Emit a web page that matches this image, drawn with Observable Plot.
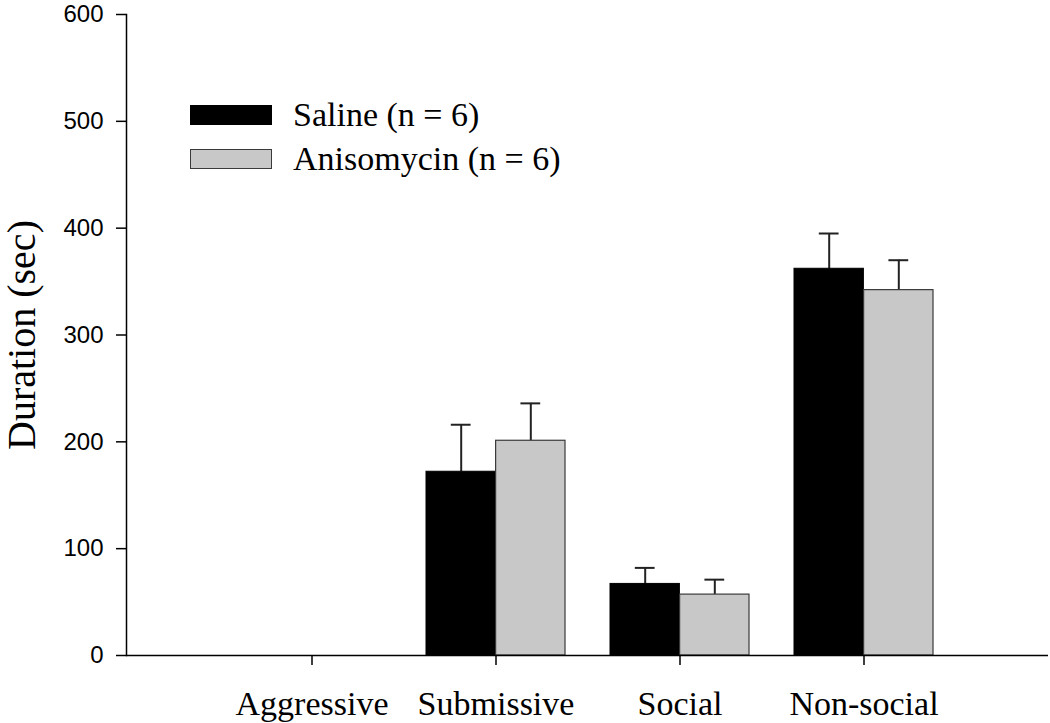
<!DOCTYPE html>
<html>
<head>
<meta charset="utf-8">
<script src="https://cdn.jsdelivr.net/npm/d3@7"></script>
<script src="https://cdn.jsdelivr.net/npm/@observablehq/plot@0.6"></script>
<style>
  html, body { margin: 0; padding: 0; background: #fff; }
  #wrap { position: relative; width: 1050px; height: 723px; }
  #legend { position: absolute; left: 190px; top: 93px; font-family: "Liberation Serif", "Times New Roman", serif; font-size: 34px; color: #000; }
  .row { display: flex; align-items: center; height: 44px; }
  .sw { width: 80px; height: 18px; margin-right: 21px; box-sizing: content-box; }
</style>
</head>
<body>
<div id="wrap"></div>
<script>
// ---- data ----
const categories = ["Aggressive", "Submissive", "Social", "Non-social"];
const seriesNames = ["Saline (n = 6)", "Anisomycin (n = 6)"];
const salineMean = [0, 172, 67, 362];
const salineSE   = [0, 44, 15, 33];
const anisoMean  = [0, 201, 57, 342];
const anisoSE    = [0, 35, 14, 28];
const yTicks = [0, 100, 200, 300, 400, 500, 600];
const colors = ["#000000", "#c8c8c8"];
const strokes = ["#000000", "#3a3a3a"];

const saline = categories.map((c, i) => ({cat: c, mean: salineMean[i], se: salineSE[i]}));
const aniso  = categories.map((c, i) => ({cat: c, mean: anisoMean[i], se: anisoSE[i]}));

const W = 1050, H = 723, mL = 126, mR = 2, mT = 14, mB = 68;
const pInner = 0.245, pOuter = 0.6225;
const step = (W - mL - mR) / (categories.length - pInner + 2 * pOuter);
const bw = step * (1 - pInner);
const half = bw / 2;
const capW = 20;
const capInset = (bw - capW) / 2;

const errMarks = (rows, side) => {
  const r = rows.filter(d => d.se > 0);
  return [
    Plot.ruleX(r, {x: "cat", y1: "mean", y2: d => d.mean + d.se, dx: side * bw / 4, stroke: "#222", strokeWidth: 2}),
    Plot.tickY(r, {x: "cat", y: d => d.mean + d.se, dx: side * bw / 4, insetLeft: capInset, insetRight: capInset, stroke: "#222", strokeWidth: 2})
  ];
};

const chart = Plot.plot({
  width: W, height: H,
  marginLeft: mL, marginRight: mR, marginTop: mT, marginBottom: mB,
  style: {fontFamily: "'Liberation Sans', Arial, sans-serif", color: "#000", background: "#fff"},
  x: {type: "band", domain: categories, paddingInner: pInner, paddingOuter: pOuter, axis: null},
  y: {domain: [0, 600], axis: null},
  marks: [
    ...errMarks(saline, -1),
    ...errMarks(aniso, 1),
    Plot.barY(saline, {x: "cat", y: "mean", fill: colors[0], stroke: strokes[0], strokeWidth: 1, insetRight: half}),
    Plot.barY(aniso, {x: "cat", y: "mean", fill: colors[1], stroke: strokes[1], strokeWidth: 1.2, insetLeft: half}),
    Plot.frame({anchor: "left", stroke: "#000", strokeWidth: 1.5}),
    Plot.ruleY([0], {stroke: "#000", strokeWidth: 1.5}),
    Plot.axisY({ticks: yTicks, tickSize: 10, tickPadding: 13, fontSize: 24, label: null, strokeWidth: 1.5}),
    Plot.axisX({tickSize: 10, tickPadding: 25, fontSize: 34, fontFamily: "'Liberation Serif', 'Times New Roman', serif", label: null, strokeWidth: 1.5}),
    Plot.text(["Duration (sec)"], {frameAnchor: "left", dx: -104, rotate: -90, fontSize: 40, fontFamily: "'Liberation Serif', 'Times New Roman', serif", textAnchor: "middle"})
  ]
});

const wrap = document.getElementById("wrap");
wrap.appendChild(chart);

const legend = document.createElement("div");
legend.id = "legend";
seriesNames.forEach((name, i) => {
  const row = document.createElement("div");
  row.className = "row";
  const sw = document.createElement("div");
  sw.className = "sw";
  sw.style.background = colors[i];
  sw.style.border = `1px solid ${strokes[i]}`;
  const t = document.createElement("span");
  t.textContent = name;
  row.appendChild(sw);
  row.appendChild(t);
  legend.appendChild(row);
});
wrap.appendChild(legend);
</script>
</body>
</html>
